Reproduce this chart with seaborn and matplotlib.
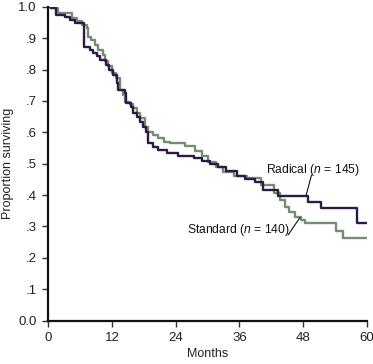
import numpy as np
import pandas as pd
import matplotlib
matplotlib.use('Agg')
import matplotlib.pyplot as plt
import seaborn as sns

# survival steps (month, proportion after the step)
radical_months = [0, 0.5, 1.5, 3.1, 4.0, 5.0, 6.7, 7.8, 8.4, 9.1, 9.7, 10.8, 11.5,
                  12.2, 12.9, 13.2, 14.4, 14.7, 15.5, 15.9, 16.6, 17.2, 17.8, 18.4,
                  18.8, 19.8, 20.7, 22.3, 24.5, 27.5, 29.0, 30.5, 32.0, 33.5, 35.5,
                  37.0, 39.0, 40.5, 43.3, 49.0, 51.4, 58.1, 60.0]
radical_surv = [1.0, 0.995, 0.975, 0.967, 0.958, 0.95, 0.872, 0.862, 0.852, 0.842,
                0.83, 0.815, 0.80, 0.783, 0.757, 0.735, 0.725, 0.693, 0.68, 0.661,
                0.649, 0.634, 0.618, 0.602, 0.565, 0.554, 0.543, 0.533, 0.525, 0.518,
                0.51, 0.50, 0.49, 0.478, 0.462, 0.452, 0.443, 0.416, 0.398, 0.378,
                0.358, 0.31, 0.31]

standard_months = [0, 0.5, 1.8, 4.4, 5.3, 6.3, 7.2, 7.5, 8.1, 8.8, 9.3, 10.3, 10.7,
                   11.3, 12.0, 12.8, 13.5, 14.1, 14.5, 15.4, 16.0, 16.6, 17.3, 18.2,
                   18.8, 19.8, 20.7, 21.7, 22.9, 25.7, 27.7, 29.0, 30.0, 31.5, 33.0,
                   35.0, 37.5, 40.0, 42.6, 43.7, 44.6, 45.4, 46.5, 47.6, 48.4, 54.2,
                   55.5, 60.0]
standard_surv = [1.0, 0.995, 0.982, 0.965, 0.955, 0.943, 0.932, 0.905, 0.893, 0.879,
                 0.863, 0.847, 0.826, 0.812, 0.79, 0.774, 0.735, 0.72, 0.698, 0.69,
                 0.677, 0.661, 0.645, 0.618, 0.602, 0.592, 0.581, 0.57, 0.565, 0.555,
                 0.54, 0.525, 0.505, 0.49, 0.475, 0.46, 0.455, 0.432, 0.408, 0.383,
                 0.362, 0.347, 0.331, 0.32, 0.31, 0.285, 0.262, 0.262]

x_ticks = [0, 12, 24, 36, 48, 60]
y_ticks = [0.0, 0.1, 0.2, 0.3, 0.4, 0.5, 0.6, 0.7, 0.8, 0.9, 1.0]
y_ticklabels = ['0.0', '.1', '.2', '.3', '.4', '.5', '.6', '.7', '.8', '.9', '1.0']

df = pd.concat([
    pd.DataFrame({'Months': radical_months, 'surv': radical_surv, 'arm': 'Radical'}),
    pd.DataFrame({'Months': standard_months, 'surv': standard_surv, 'arm': 'Standard'}),
])

sns.set_style('ticks')
plt.rcParams['font.family'] = ['Liberation Sans', 'DejaVu Sans']
plt.rcParams['mathtext.fontset'] = 'custom'
plt.rcParams['mathtext.it'] = 'Liberation Sans:italic'
plt.rcParams['mathtext.rm'] = 'Liberation Sans'

fig = plt.figure(figsize=(3.73, 3.64), dpi=100)
ax = fig.add_axes([0.130, 0.1195, 0.853, 0.8615])

sns.lineplot(data=df, x='Months', y='surv', hue='arm', hue_order=['Standard', 'Radical'],
             palette={'Radical': '#2c1b47', 'Standard': '#728f72'},
             drawstyle='steps-post', linewidth=1.7, legend=False, ax=ax)

ax.set_xlim(0, 60)
ax.set_ylim(0, 1.0)
ax.set_xticks(x_ticks)
ax.set_yticks(y_ticks)
ax.set_yticklabels(y_ticklabels)
ax.tick_params(labelsize=9.5, length=4, width=1, pad=4.5, color='#333333', labelcolor='#222222')
for s in ['top', 'right']:
    ax.spines[s].set_visible(False)
for s in ['left', 'bottom']:
    ax.spines[s].set_linewidth(1.6)
    ax.spines[s].set_color('#111111')

ax.set_xlabel('Months', fontsize=9, color='#222222', labelpad=3)
ax.set_ylabel('Proportion surviving', fontsize=9, color='#222222', labelpad=3)

# curve labels with leader lines
ax.text(41.1, 0.48, 'Radical ($n$ = 145)', fontsize=8.7, va='center', color='#111111')
ax.plot([49.6, 48.6], [0.464, 0.40], color='#111111', lw=0.8)
ax.text(26.1, 0.289, 'Standard ($n$ = 140)', fontsize=8.7, va='center', color='#111111')
ax.plot([45.2, 47.4], [0.273, 0.328], color='#111111', lw=0.8)

fig.savefig('out.png', dpi=100)
